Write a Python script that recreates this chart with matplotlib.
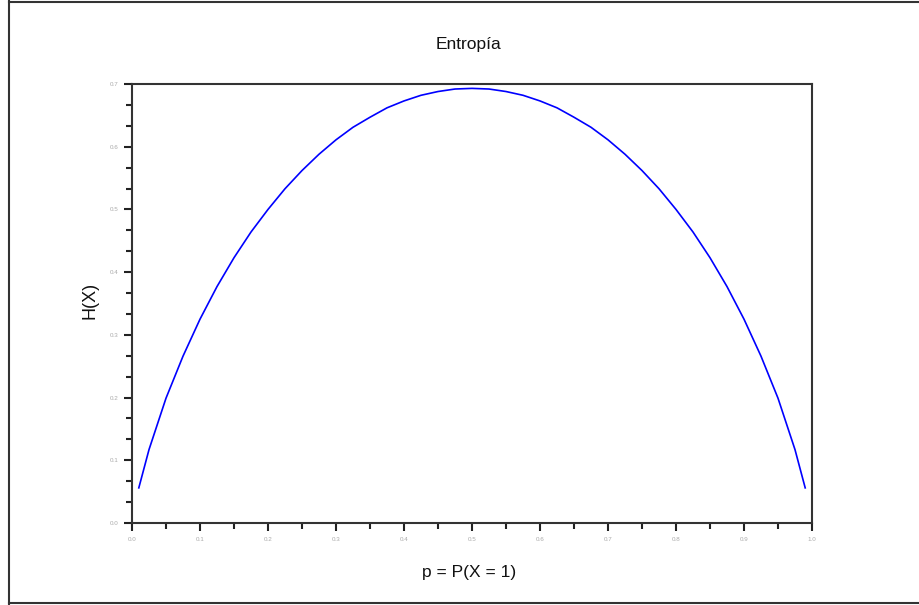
import numpy as np
import matplotlib
matplotlib.use("Agg")
import matplotlib.pyplot as plt
from matplotlib.lines import Line2D
from matplotlib.ticker import MultipleLocator

# values
p_vals = [0.01, 0.025, 0.05, 0.075, 0.1, 0.125, 0.15, 0.175, 0.2, 0.225,
          0.25, 0.275, 0.3, 0.325, 0.35, 0.375, 0.4, 0.425, 0.45, 0.475,
          0.5, 0.525, 0.55, 0.575, 0.6, 0.625, 0.65, 0.675, 0.7, 0.725,
          0.75, 0.775, 0.8, 0.825, 0.85, 0.875, 0.9, 0.925, 0.95, 0.975, 0.99]
h_vals = [0.056, 0.117, 0.199, 0.266, 0.325, 0.377, 0.423, 0.464, 0.500, 0.533,
          0.562, 0.588, 0.611, 0.631, 0.647, 0.662, 0.673, 0.682, 0.688, 0.692,
          0.693, 0.692, 0.688, 0.682, 0.673, 0.662, 0.647, 0.631, 0.611, 0.588,
          0.562, 0.533, 0.500, 0.464, 0.423, 0.377, 0.325, 0.266, 0.199, 0.117, 0.056]
x_ticks = [0.0, 0.1, 0.2, 0.3, 0.4, 0.5, 0.6, 0.7, 0.8, 0.9, 1.0]
y_ticks = [0.0, 0.1, 0.2, 0.3, 0.4, 0.5, 0.6, 0.7]

plt.rcParams['font.family'] = ['Liberation Sans', 'DejaVu Sans']

fig = plt.figure(figsize=(9.2, 6.05), dpi=100)
ax = fig.add_axes([132 / 920, 1 - 523 / 605, 680 / 920, 439 / 605])

ax.plot(p_vals, h_vals, color='#0000ff', linewidth=1.2)

ax.set_xlim(0, 1)
ax.set_ylim(0, 0.7)
ax.set_xticks(x_ticks)
ax.set_yticks(y_ticks)
ax.set_xticklabels([f"{v:.1f}" for v in x_ticks])
ax.set_yticklabels([f"{v:.1f}" for v in y_ticks])
ax.xaxis.set_minor_locator(MultipleLocator(0.05))
ax.yaxis.set_minor_locator(MultipleLocator(0.1 / 3))

for s in ax.spines.values():
    s.set_linewidth(1.5)
    s.set_color('#333333')

ax.tick_params(which='major', direction='out', length=6, width=1.5,
               color='#222222', labelsize=4.5, labelcolor='#aaaaaa', pad=4)
ax.tick_params(which='minor', direction='out', length=4, width=1.5,
               color='#222222')
ax.tick_params(top=False, right=False, which='both')

fig.text(469 / 920, 1 - 44 / 605, 'Entropía', ha='center', va='center',
         fontsize=12.5, color='#111111')
fig.text(469 / 920, 1 - 572 / 605, 'p = P(X = 1)', ha='center', va='center',
         fontsize=12.5, color='#111111')
fig.text(90 / 920, 1 - 300 / 605, 'H(X)', ha='center', va='center',
         fontsize=13, rotation=90, color='#111111')

# outer frame of the graphic window
frame_kw = dict(transform=fig.transFigure, color='#333333', linewidth=1.5)
fig.add_artist(Line2D([8.5 / 920, 8.5 / 920], [0, 1], **frame_kw))
fig.add_artist(Line2D([8.5 / 920, 1], [1 - 1.5 / 605, 1 - 1.5 / 605], **frame_kw))
fig.add_artist(Line2D([8.5 / 920, 1], [1 - 603 / 605, 1 - 603 / 605], **frame_kw))

fig.savefig('out.png', dpi=100, facecolor='white')
